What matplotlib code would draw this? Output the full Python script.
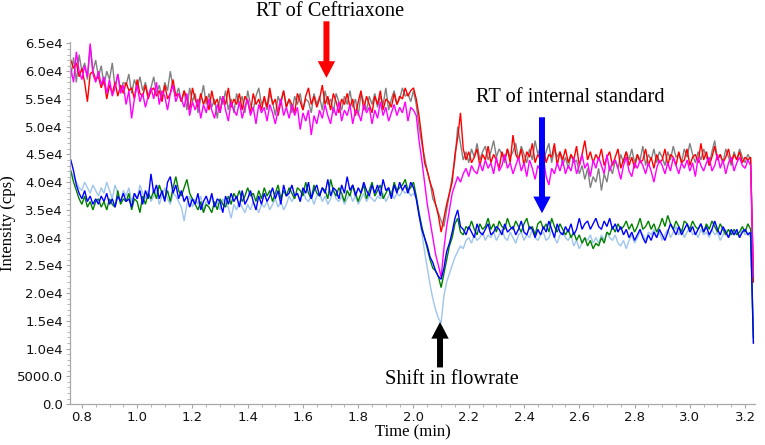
import numpy as np
import matplotlib
matplotlib.use("Agg")
import matplotlib.pyplot as plt
from matplotlib.ticker import AutoMinorLocator, FuncFormatter

# Sampling: first sample time and step (min); values in thousands of cps
t0 = 0.76
dt = 0.01

red = [
    62.0, 60.5, 61.5, 59.0, 60.5, 58.0, 54.5, 59.5, 60.0, 58.5,
    59.0, 57.0, 58.5, 55.0, 57.5, 56.0, 58.0, 55.5, 57.5, 56.0,
    58.0, 56.5, 57.0, 55.0, 58.5, 56.0, 55.5, 57.5, 55.0, 56.5,
    57.0, 55.5, 56.5, 54.5, 57.5, 55.0, 56.0, 58.5, 55.5, 56.0,
    54.5, 56.5, 55.0, 53.0, 57.0, 55.0, 53.5, 56.0, 54.0, 55.5,
    53.0, 56.5, 54.0, 55.0, 52.5, 55.5, 54.0, 57.0, 53.5, 55.0,
    54.0, 56.0, 53.0, 55.5, 54.5, 52.5, 56.0, 54.0, 55.0, 53.0,
    55.5, 53.5, 57.0, 54.0, 55.0, 52.0, 54.5, 56.5, 53.5, 55.0,
    54.0, 52.5, 56.0, 54.5, 53.0, 55.5, 57.0, 54.0, 55.5, 53.5,
    55.0, 57.5, 54.0, 55.5, 53.0, 56.0, 54.5, 52.5, 55.0, 54.0,
    56.0, 53.5, 55.0, 52.0, 54.5, 56.5, 53.0, 55.5, 54.0, 52.5,
    55.5, 54.0, 56.5, 53.0, 55.0, 54.5, 53.5, 56.0, 54.0, 55.5,
    55.0, 57.0, 55.5, 56.5, 57.0, 55.0, 52.0, 48.0, 43.5, 42.0,
    40.0, 38.5, 36.0, 34.0, 31.0, 33.5, 36.0, 38.0, 40.0, 45.0,
    48.0, 52.5, 46.0, 44.0, 45.5, 43.5, 44.5, 46.0, 43.0, 45.0,
    44.0, 46.5, 43.5, 45.0, 44.0, 42.5, 45.5, 44.0, 46.0, 43.5,
    48.5, 45.0, 44.0, 46.0, 43.0, 45.5, 44.5, 47.0, 43.5, 45.0,
    44.0, 46.5, 43.5, 45.0, 44.5, 47.0, 43.0, 45.5, 44.0, 46.0,
    43.5, 45.0, 44.0, 46.5, 43.0, 45.0, 47.5, 44.0, 45.5, 43.5,
    45.0, 44.0, 46.0, 43.0, 44.5, 45.5, 43.0, 44.5, 46.0, 42.5,
    44.0, 45.5, 43.0, 44.5, 42.5, 45.0, 43.5, 44.0, 46.0, 43.0,
    44.5, 42.5, 45.0, 43.5, 44.0, 46.0, 43.0, 45.0, 44.5, 43.0,
    45.5, 43.5, 44.0, 46.0, 43.0, 44.5, 45.0, 43.5, 47.0, 44.0,
    45.5, 43.0, 44.5, 46.5, 44.0, 45.0, 43.5, 44.5, 46.0, 43.5,
    45.0, 44.0, 45.5, 43.5, 44.5, 44.0, 44.5, 22.0,
]

gray = [
    59.0, 62.5, 58.0, 63.0, 60.0, 61.5, 58.5, 64.5, 60.0, 62.0,
    59.0, 61.0, 57.5, 60.0, 58.5, 61.5, 57.0, 59.5, 56.5, 58.0,
    57.5, 59.5, 56.0, 58.5, 57.0, 59.0, 56.5, 58.0, 55.5, 57.0,
    59.0, 56.0, 57.5, 55.0, 58.0, 56.5, 60.0, 57.0, 55.5, 57.0,
    54.5, 56.5, 53.0, 57.0, 54.5, 56.0, 52.5, 55.0, 57.5, 54.0,
    56.0, 53.5, 55.0, 51.5, 55.5, 54.0, 56.5, 53.0, 55.0, 52.5,
    56.0, 54.0, 55.5, 52.5, 56.5, 54.0, 53.0, 55.5, 57.0, 54.0,
    55.0, 53.0, 56.0, 54.5, 52.0, 55.5, 54.0, 56.5, 53.5, 55.0,
    52.5, 55.5, 54.0, 56.0, 53.0, 55.0, 54.5, 52.5, 56.0, 54.0,
    55.5, 53.0, 56.5, 54.0, 55.0, 52.5, 56.0, 54.5, 53.0, 55.5,
    54.0, 56.5, 53.5, 55.0, 52.0, 56.0, 54.5, 53.0, 55.5, 54.0,
    56.0, 53.5, 55.5, 54.0, 57.0, 53.0, 55.0, 56.5, 54.0, 55.0,
    57.0, 55.5, 56.0, 54.5, 56.5, 54.0, 50.0, 47.0, 44.5, 42.0,
    40.0, 37.0, 36.0, 34.5, 33.0, 32.0, 35.0, 38.0, 41.0, 44.0,
    50.0, 47.0, 44.0, 45.5, 43.5, 46.0, 44.5, 47.0, 44.0, 45.5,
    46.5, 44.0, 45.5, 47.5, 44.5, 46.0, 45.0, 43.5, 46.0, 44.5,
    45.5, 47.0, 44.0, 46.5, 45.0, 43.5, 46.0, 44.0, 47.5, 45.0,
    46.5, 44.0, 45.5, 47.0, 43.5, 46.0, 44.5, 45.5, 43.0, 44.5,
    42.5, 45.0, 43.5, 44.0, 41.5, 43.0, 40.5, 42.5, 39.0, 41.0,
    40.0, 42.5, 38.5, 41.5, 40.0, 43.0, 41.5, 44.0, 42.5, 45.0,
    43.5, 45.5, 44.0, 46.0, 43.5, 45.0, 44.0, 46.5, 43.0, 45.0,
    44.0, 46.0, 43.5, 45.5, 44.5, 43.0, 45.5, 44.0, 46.5, 44.5,
    45.0, 43.5, 46.0, 44.5, 47.0, 45.0, 43.5, 45.5, 44.0, 46.0,
    44.5, 43.0, 45.5, 47.5, 44.0, 45.0, 43.5, 46.0, 44.5, 43.0,
    45.5, 44.0, 46.0, 44.5, 43.5, 45.0, 44.0, 23.0,
]

magenta = [
    60.5, 58.0, 63.5, 60.0, 58.5, 61.0, 59.0, 65.0, 59.5, 58.0,
    60.0, 57.5, 59.0, 56.0, 58.5, 55.5, 57.0, 59.5, 56.0, 57.5,
    54.0, 56.5, 51.5, 55.0, 57.5, 54.5, 56.0, 53.5, 55.5, 57.0,
    55.0, 58.0, 54.0, 56.5, 55.5, 53.0, 56.0, 57.5, 54.5, 56.0,
    55.0, 53.5, 56.0, 52.0, 54.5, 53.0, 55.0, 51.5, 54.0, 52.5,
    55.0, 53.0, 51.5, 54.0, 52.5, 55.5, 53.0, 51.0, 54.5, 53.0,
    52.0, 54.5, 51.5, 53.5, 55.0, 52.0, 53.5, 50.5, 54.0, 52.5,
    53.5, 51.0, 54.0, 52.5, 50.5, 53.0, 55.0, 52.0, 53.5, 51.5,
    54.0, 52.0, 53.5, 49.5, 52.5, 51.0, 53.0, 48.5, 52.0, 50.5,
    53.0, 51.5, 54.0, 52.0, 50.5, 53.5, 52.0, 54.5, 51.0, 53.0,
    52.0, 54.0, 50.5, 53.0, 52.5, 51.0, 54.0, 52.5, 53.5, 50.5,
    53.0, 51.5, 54.5, 52.0, 53.5, 51.0, 52.5, 54.0, 52.0, 53.5,
    52.5, 54.5, 51.0, 53.5, 53.0, 52.0, 47.5, 44.0, 40.0, 36.0,
    33.0, 30.0, 27.0, 25.0, 22.9, 28.0, 32.0, 35.0, 38.0, 39.5,
    41.0, 40.0, 41.5, 42.5, 41.0, 43.0, 42.0, 41.5, 43.5, 42.0,
    44.0, 42.5, 43.5, 41.5, 44.5, 42.0, 43.0, 45.0, 42.5, 43.5,
    41.5, 43.0, 44.5, 42.0, 43.5, 41.0, 44.0, 42.5, 40.5, 43.0,
    42.0, 44.5, 41.0, 39.5, 42.5, 41.5, 43.5, 42.0, 44.0, 41.5,
    43.0, 42.0, 44.5, 41.5, 43.0, 45.0, 42.5, 43.5, 41.0, 44.0,
    42.5, 44.5, 43.0, 41.5, 45.0, 42.0, 43.5, 44.0, 42.5, 40.5,
    43.0, 44.5, 42.0, 41.0, 43.5, 42.5, 44.0, 43.0, 41.5, 43.5,
    42.0, 40.0, 42.5, 44.0, 43.0, 41.5, 43.5, 42.0, 44.5, 43.0,
    41.5, 43.5, 42.5, 44.0, 42.0, 43.5, 41.0, 44.5, 43.0, 42.0,
    43.5, 44.5, 42.0, 43.0, 45.0, 42.5, 44.0, 41.5, 43.5, 44.5,
    42.0, 43.5, 44.5, 43.0, 42.5, 44.0, 43.0, 23.0,
]

blue = [
    44.0, 42.0, 39.5, 38.0, 37.0, 38.5, 36.5, 37.5, 36.0, 37.0,
    36.0, 37.5, 36.5, 38.0, 36.0, 37.0, 35.5, 37.5, 36.5, 38.0,
    36.5, 37.0, 35.5, 38.0, 37.0, 38.5, 36.0, 38.5, 37.0, 41.5,
    38.0, 39.5, 37.0, 38.5, 36.5, 40.0, 41.0, 38.0, 39.5, 37.0,
    38.5, 36.5, 37.5, 35.5, 37.0, 36.0, 38.0, 35.0, 36.5, 37.5,
    36.0, 38.0, 35.5, 37.0, 36.5, 34.5, 37.5, 36.0, 38.0, 36.5,
    37.5, 35.5, 38.5, 36.0, 37.0, 38.5, 36.5, 35.0, 37.5, 36.0,
    38.0, 36.5, 37.5, 39.0, 37.0, 38.5, 36.0, 39.5, 37.5, 38.0,
    39.5, 37.5, 38.0, 36.5, 39.0, 38.0, 40.0, 37.0, 38.5, 39.5,
    37.5, 39.0, 38.0, 40.5, 37.5, 39.0, 38.5, 37.0, 39.5, 38.0,
    41.0, 38.5, 39.5, 37.5, 39.0, 38.0, 40.0, 38.5, 37.5, 39.5,
    38.0, 39.5, 37.5, 40.5, 38.5, 39.0, 37.0, 39.5, 38.0, 40.0,
    38.5, 39.5, 38.0, 40.0, 39.0, 37.0, 34.0, 31.5, 30.0, 28.5,
    26.5, 25.5, 24.0, 23.0, 22.5, 24.5, 27.5, 29.0, 31.0, 33.5,
    35.0, 32.0, 31.5, 30.5, 32.0, 31.0, 30.0, 32.5, 31.0, 30.5,
    31.5, 32.5, 30.5, 31.0, 32.0, 31.5, 30.5, 32.5, 31.0, 31.5,
    32.0, 30.5, 31.5, 33.0, 31.0, 30.5, 32.0, 31.5, 30.0, 31.5,
    30.5, 32.0, 31.0, 33.0, 31.5, 30.0, 32.5, 31.0, 30.5, 32.0,
    31.0, 32.5, 30.5, 31.5, 33.5, 31.5, 32.5, 33.0, 31.5, 32.5,
    33.5, 32.0, 31.5, 33.0, 32.0, 33.5, 31.5, 32.5, 31.0, 32.0,
    30.5, 31.5, 30.0, 31.0, 29.5, 30.5, 31.5, 30.0, 29.0, 30.5,
    29.5, 31.0, 30.0, 31.5, 30.5, 29.5, 31.0, 32.5, 31.5, 30.5,
    32.0, 30.5, 31.5, 32.5, 31.0, 32.0, 30.5, 31.5, 32.5, 31.0,
    32.0, 30.5, 31.5, 33.0, 31.5, 30.5, 32.0, 31.0, 30.0, 31.5,
    30.5, 31.5, 30.0, 31.0, 31.5, 30.5, 31.0, 11.0,
]

green = [
    42.0, 40.0, 38.5, 37.0, 36.0, 37.5, 35.5, 36.5, 35.0, 36.5,
    37.0, 35.5, 36.5, 35.0, 37.0, 36.0, 35.5, 38.5, 36.0, 37.0,
    36.5, 38.0, 35.0, 37.0, 36.5, 34.5, 37.5, 36.0, 38.0, 37.0,
    38.5, 37.0, 39.5, 38.0, 37.0, 38.5, 36.5, 39.0, 41.0, 38.5,
    37.5, 39.0, 40.5, 38.0, 37.0, 36.0, 35.0, 36.5, 34.5, 36.0,
    35.5, 34.5, 36.5, 35.0, 37.0, 36.0, 35.5, 37.5, 36.0, 38.0,
    37.0, 38.5, 36.5, 37.5, 39.0, 37.5, 38.0, 36.5, 38.5, 37.0,
    39.0, 37.5, 38.5, 36.5, 38.0, 39.5, 37.0, 38.5, 37.5, 39.0,
    38.0, 37.0, 39.0, 38.5, 37.5, 40.0, 38.0, 37.0, 39.5, 38.0,
    37.5, 39.0, 38.5, 37.0, 40.5, 38.5, 37.5, 39.0, 38.0, 36.5,
    38.5, 37.5, 39.5, 38.0, 36.5, 38.0, 39.5, 37.0, 38.5, 40.0,
    37.5, 38.5, 39.5, 37.0, 38.0, 39.0, 37.5, 40.0, 38.5, 39.0,
    39.5, 40.5, 38.5, 39.0, 40.0, 37.5, 34.5, 32.0, 30.0, 28.0,
    26.0, 24.5, 24.0, 23.0, 21.0, 23.5, 26.0, 28.5, 30.0, 32.5,
    33.5, 31.0, 30.5, 32.0, 31.5, 33.0, 31.5, 30.5, 32.5, 31.5,
    32.0, 33.5, 31.5, 32.5, 31.0, 33.0, 32.0, 31.5, 33.5, 32.0,
    31.5, 33.0, 32.0, 31.0, 32.5, 33.5, 31.5, 32.0, 30.5, 32.5,
    33.0, 31.5, 32.5, 31.0, 33.5, 32.0, 31.0, 32.5, 31.5, 30.5,
    31.5, 30.0, 31.0, 29.5, 30.5, 29.0, 30.0, 28.5, 29.5, 28.0,
    29.0, 28.5, 30.0, 29.0, 31.0, 30.5, 32.0, 31.0, 32.5, 31.5,
    32.0, 33.0, 31.5, 32.5, 31.0, 32.0, 33.5, 31.5, 32.0, 33.0,
    31.5, 32.5, 31.0, 32.0, 33.5, 32.0, 34.0, 32.5, 31.5, 33.0,
    32.0, 31.0, 33.0, 32.5, 31.5, 33.0, 32.0, 31.5, 32.5, 31.0,
    32.5, 31.5, 33.0, 32.0, 31.0, 32.5, 31.5, 30.5, 31.5, 30.5,
    31.5, 30.5, 31.0, 32.0, 31.0, 32.5, 31.5, 12.0,
]

lightblue = [
    42.0, 41.0, 40.0, 39.0, 38.5, 40.0, 39.0, 38.0, 39.5, 38.5,
    37.5, 39.0, 38.0, 40.0, 38.5, 37.0, 39.5, 38.0, 36.5, 38.5,
    37.5, 39.0, 36.5, 38.0, 37.0, 39.5, 38.0, 37.0, 38.5, 36.5,
    37.5, 38.5, 36.0, 37.5, 39.0, 37.0, 36.0, 38.0, 37.5, 36.5,
    35.5, 33.0, 36.0, 37.5, 35.5, 37.0, 36.0, 37.5, 35.0, 36.5,
    36.0, 37.5, 35.5, 36.5, 35.0, 37.0, 36.0, 35.5, 33.5, 36.0,
    35.0, 36.5, 35.5, 34.5, 36.0, 35.0, 36.5, 35.5, 34.5, 36.0,
    35.5, 36.5, 35.0, 36.0, 37.0, 35.5, 36.5, 35.0, 36.0, 37.5,
    36.5, 37.5, 38.0, 36.5, 38.5, 37.0, 36.5, 37.5, 36.0, 37.5,
    38.0, 36.5, 37.5, 36.0, 37.0, 38.5, 37.0, 36.5, 37.5, 36.0,
    37.0, 38.0, 36.5, 37.5, 36.0, 37.0, 38.0, 36.5, 37.5, 37.0,
    36.5, 37.5, 37.0, 38.0, 36.5, 37.5, 38.5, 37.0, 38.0, 37.5,
    38.5, 38.0, 38.5, 37.5, 38.0, 37.0, 34.5, 31.0, 27.5, 24.5,
    21.5, 19.0, 17.0, 15.5, 14.6, 19.5, 22.0, 23.5, 25.0, 26.5,
    27.5, 28.5, 28.0, 29.5, 30.0, 29.0, 30.5, 29.5, 30.0, 31.0,
    29.5, 30.5, 30.0, 31.0, 29.5, 30.5, 31.5, 30.0, 29.5, 31.0,
    30.0, 29.0, 30.5, 31.0, 29.5, 30.5, 30.0, 31.5, 30.0, 29.5,
    30.5, 31.0, 29.5, 30.0, 31.5, 30.0, 29.0, 30.5, 31.0, 30.0,
    29.5, 30.5, 28.5, 29.5, 28.0, 29.0, 30.0, 29.5, 30.5, 29.0,
    30.0, 29.0, 30.5, 29.5, 31.0, 30.0, 29.5, 30.5, 29.0, 28.5,
    29.5, 28.0, 29.5, 30.5, 29.0, 30.0, 31.0, 30.5, 29.5, 31.0,
    30.5, 31.5, 30.0, 31.0, 29.5, 30.5, 31.5, 30.0, 31.0, 32.0,
    30.5, 31.5, 30.0, 31.0, 32.0, 30.5, 31.0, 30.0, 31.5, 30.5,
    31.0, 30.0, 31.5, 30.5, 31.0, 29.5, 30.5, 31.5, 30.0, 31.0,
    30.5, 31.0, 30.0, 31.5, 30.5, 31.0, 30.0, 11.0,
]

series = [
    (gray, "#808080"),
    (red, "#ff0000"),
    (magenta, "#ff00ff"),
    (lightblue, "#9fc5ee"),
    (green, "#008000"),
    (blue, "#0000ff"),
]

# Annotations (time in min, intensity in cps)
ceft_label = "RT of Ceftriaxone"
ceft_x, ceft_tip, ceft_tail = 1.685, 58800, 69000
istd_label = "RT of internal standard"
istd_x, istd_tip, istd_tail = 2.465, 34400, 51700
flow_label = "Shift in flowrate"
flow_x, flow_tip, flow_tail = 2.096, 14800, 6600

xticks = [0.8, 1.0, 1.2, 1.4, 1.6, 1.8, 2.0, 2.2, 2.4, 2.6, 2.8, 3.0, 3.2]
yticks = [0, 5000, 10000, 15000, 20000, 25000, 30000, 35000, 40000, 45000,
          50000, 55000, 60000, 65000]

fig = plt.figure(figsize=(7.65, 4.45), dpi=100)
ax = fig.add_axes([0.0915, 0.092, 0.8955, 0.814])

for vals, col in series:
    v = np.asarray(vals) * 1000.0
    t = t0 + dt * np.arange(len(v))
    ax.plot(t, v, color=col, lw=1.0, solid_joinstyle="miter")

ax.set_xlim(0.757, 3.236)
ax.set_ylim(0, 65300)

spine_col = "#a8a8a8"
for s in ["top", "right"]:
    ax.spines[s].set_visible(False)
for s in ["left", "bottom"]:
    ax.spines[s].set_color(spine_col)
    ax.spines[s].set_linewidth(0.9)

ax.set_xticks(xticks)
ax.set_yticks(yticks)

def yfmt(v, pos):
    if v == 0:
        return "0.0"
    if v < 10000:
        return "%.1f" % v
    return "%.1fe4" % (v / 1e4)

ax.yaxis.set_major_formatter(FuncFormatter(yfmt))
ax.xaxis.set_major_formatter(FuncFormatter(lambda v, p: "%.1f" % v))
ax.xaxis.set_minor_locator(AutoMinorLocator(4))
ax.yaxis.set_minor_locator(AutoMinorLocator(5))
ax.tick_params(axis="both", which="major", length=3, width=0.8, color=spine_col,
               labelsize=9.5, labelcolor="#111111", pad=2)
ax.tick_params(axis="both", which="minor", length=2, width=0.6, color=spine_col)

serif = ["Liberation Serif", "DejaVu Serif"]
ax.set_xlabel("Time (min)", fontsize=12, family=serif, labelpad=0)
ax.set_ylabel("Intensity (cps)", fontsize=12, family=serif, labelpad=1)

arrow_kw = dict(width=4.3, headwidth=12.5, headlength=12, shrink=0.0)

ax.annotate("", xy=(ceft_x, ceft_tip), xytext=(ceft_x, ceft_tail),
            arrowprops=dict(facecolor="#ff0000", edgecolor="none", **arrow_kw),
            annotation_clip=False)
ax.annotate("", xy=(istd_x, istd_tip), xytext=(istd_x, istd_tail),
            arrowprops=dict(facecolor="#0000ff", edgecolor="none", **arrow_kw),
            annotation_clip=False)
ax.annotate("", xy=(flow_x, flow_tip), xytext=(flow_x, flow_tail),
            arrowprops=dict(facecolor="#000000", edgecolor="none", **arrow_kw),
            annotation_clip=False)

fig.text(330 / 765, 1 - 12 / 445, ceft_label, ha="center", va="center",
         fontsize=14.7, family=serif)
fig.text(570 / 765, 1 - 97 / 445, istd_label, ha="center", va="center",
         fontsize=14.7, family=serif)
fig.text(452 / 765, 1 - 380 / 445, flow_label, ha="center", va="center",
         fontsize=14.7, family=serif)

fig.savefig("out.png", dpi=100)
